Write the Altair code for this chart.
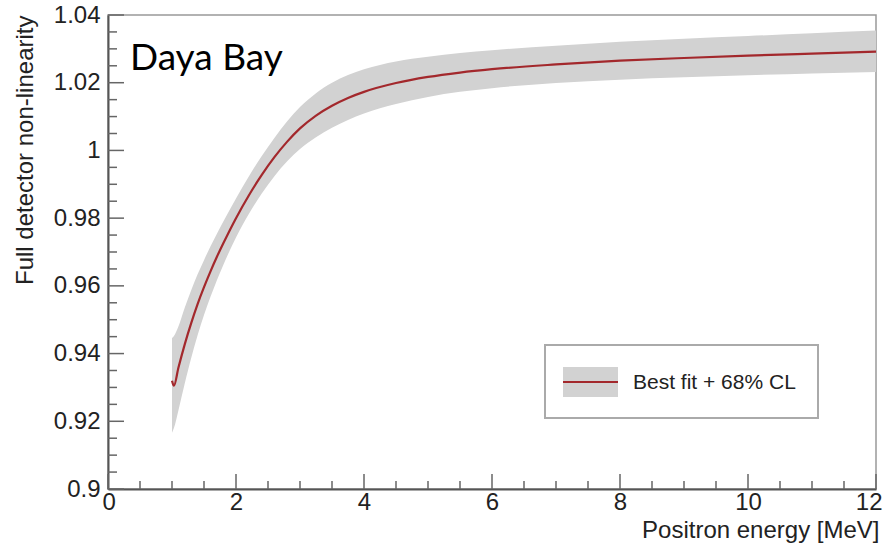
import altair as alt
import pandas as pd

# ---- data ----
energy = [1.0, 1.03, 1.1, 1.2, 1.3, 1.4, 1.5, 1.6, 1.7, 1.8, 2.0, 2.2, 2.4, 2.6, 2.8,
          3.0, 3.25, 3.5, 3.75, 4.0, 4.5, 5.0, 5.5, 6.0, 7.0, 8.0, 9.0, 10.0, 11.0, 12.0]
best_fit = [0.9320, 0.9305, 0.9358, 0.9428, 0.9490, 0.9546, 0.9596, 0.9642, 0.9685, 0.9725,
            0.9800, 0.9867, 0.9927, 0.9980, 1.0026, 1.0065, 1.0103, 1.0132, 1.0155, 1.0173,
            1.0199, 1.0217, 1.0230, 1.0240, 1.0254, 1.0265, 1.0273, 1.0280, 1.0286, 1.0292]
band_low = [0.9166, 0.9180, 0.9232, 0.9312, 0.9387, 0.9454, 0.9514, 0.9567, 0.9616, 0.9661,
            0.9743, 0.9812, 0.9872, 0.9924, 0.9968, 1.0004, 1.0039, 1.0067, 1.0090, 1.0109,
            1.0137, 1.0158, 1.0173, 1.0184, 1.0199, 1.0209, 1.0216, 1.0222, 1.0227, 1.0232]
band_high = [0.9446, 0.9452, 0.9480, 0.9536, 0.9587, 0.9634, 0.9676, 0.9716, 0.9753, 0.9789,
             0.9858, 0.9923, 0.9983, 1.0037, 1.0086, 1.0128, 1.0169, 1.0200, 1.0223, 1.0240,
             1.0263, 1.0277, 1.0288, 1.0296, 1.0309, 1.0321, 1.0330, 1.0338, 1.0346, 1.0354]

x_major = [0, 2, 4, 6, 8, 10, 12]
x_minor = [0.5, 1, 1.5, 2.5, 3, 3.5, 4.5, 5, 5.5, 6.5, 7, 7.5, 8.5, 9, 9.5, 10.5, 11, 11.5]
y_major = [0.90, 0.92, 0.94, 0.96, 0.98, 1.00, 1.02, 1.04]
y_minor = [0.905, 0.91, 0.915, 0.925, 0.93, 0.935, 0.945, 0.95, 0.955, 0.965, 0.97, 0.975,
           0.985, 0.99, 0.995, 1.005, 1.01, 1.015, 1.025, 1.03, 1.035]

legend_label = "Best fit + 68% CL"
experiment_label = "Daya Bay"

df = pd.DataFrame({"E": energy, "best": best_fit, "lo": band_low, "hi": band_high})

W, H = 768, 474
FONT = "Liberation Sans"

xscale = alt.Scale(domain=[0, 12], nice=False, zero=False)
yscale = alt.Scale(domain=[0.9, 1.04], nice=False, zero=False)

x_axis = alt.Axis(values=x_major, format="d", ticks=False, tickSize=0, grid=False,
                  labelFont=FONT, labelFontSize=24, labelColor="#222", labelPadding=1,
                  labelFlush=True, labelFlushOffset=6,
                  domainColor="#555", domainWidth=2, title="Positron energy [MeV]",
                  titleFont=FONT, titleFontSize=24, titleFontWeight="normal",
                  titleColor="#222", titleX=771, titleY=48, titleAlign="right",
                  titleBaseline="alphabetic")
y_axis = alt.Axis(values=y_major, format=".2~f", ticks=False, tickSize=0, grid=False,
                  labelFont=FONT, labelFontSize=24, labelColor="#222", labelPadding=8,
                  domainColor="#555", domainWidth=2, title="Full detector non-linearity",
                  titleFont=FONT, titleFontSize=24, titleFontWeight="normal",
                  titleColor="#222", titleAngle=-90, titleX=-83, titleY=0,
                  titleAlign="right", titleBaseline="middle", labelFlush=False)

band = alt.Chart(df).mark_area(color="#d2d2d2", interpolate="monotone").encode(
    x=alt.X("E:Q", scale=xscale, axis=x_axis),
    y=alt.Y("lo:Q", scale=yscale, axis=y_axis),
    y2="hi:Q",
)
line = alt.Chart(df).mark_line(color="#a3282c", strokeWidth=2.2, interpolate="monotone").encode(
    x=alt.X("E:Q", scale=xscale),
    y=alt.Y("best:Q", scale=yscale),
)

tick_color = "#666"
ymaj = alt.Chart(pd.DataFrame({"v": y_major})).mark_rule(color=tick_color, strokeWidth=1.5).encode(
    y=alt.Y("v:Q", scale=yscale), x=alt.value(0), x2=alt.value(16))
ymin = alt.Chart(pd.DataFrame({"v": y_minor})).mark_rule(color=tick_color, strokeWidth=1.5).encode(
    y=alt.Y("v:Q", scale=yscale), x=alt.value(0), x2=alt.value(9))
xmaj = alt.Chart(pd.DataFrame({"v": x_major})).mark_rule(color=tick_color, strokeWidth=1.5).encode(
    x=alt.X("v:Q", scale=xscale), y=alt.value(H), y2=alt.value(H - 15))
xmin = alt.Chart(pd.DataFrame({"v": x_minor})).mark_rule(color=tick_color, strokeWidth=1.5).encode(
    x=alt.X("v:Q", scale=xscale), y=alt.value(H), y2=alt.value(H - 8))

one = pd.DataFrame({"k": [0]})
leg_box = alt.Chart(one).mark_rect(fill="white", stroke="#aaa", strokeWidth=2).encode(
    x=alt.value(437), x2=alt.value(710), y=alt.value(330), y2=alt.value(403))
leg_swatch = alt.Chart(one).mark_rect(fill="#d2d2d2").encode(
    x=alt.value(455), x2=alt.value(510), y=alt.value(352), y2=alt.value(382))
leg_line = alt.Chart(one).mark_rule(color="#a3282c", strokeWidth=2.2).encode(
    x=alt.value(455), x2=alt.value(510), y=alt.value(367))
leg_text = alt.Chart(pd.DataFrame({"t": [legend_label]})).mark_text(
    font=FONT, fontSize=21, color="#222", align="left", baseline="middle").encode(
    x=alt.value(525), y=alt.value(368), text="t:N")

label = alt.Chart(pd.DataFrame({"t": [experiment_label]})).mark_text(
    font="Lato", fontSize=37, color="black", align="left", baseline="alphabetic").encode(
    x=alt.value(22), y=alt.value(55), text="t:N")

chart = alt.layer(band, line, ymaj, ymin, xmaj, xmin, leg_box, leg_swatch, leg_line,
                  leg_text, label).properties(
    width=W, height=H,
    autosize=alt.AutoSizeParams(type="none"),
    padding={"left": 108, "top": 15, "right": 11, "bottom": 55},
    background="white",
).configure_view(stroke="#999", strokeWidth=1.5)

chart.save("out.html", embed_options={"renderer": "svg", "actions": False})
